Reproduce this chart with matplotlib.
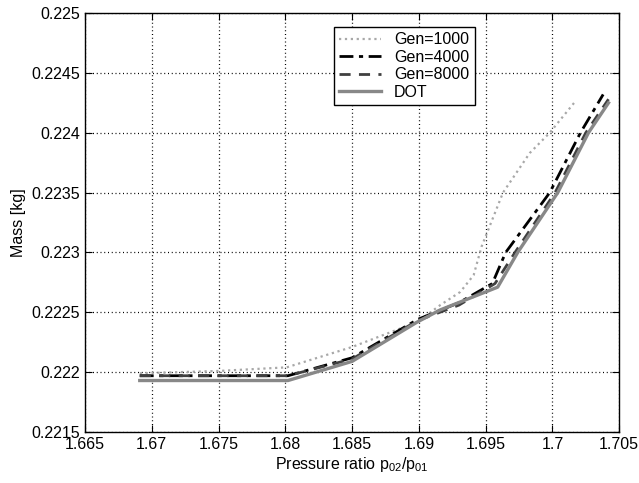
import matplotlib.pyplot as plt

plt.rcParams['font.family'] = ['Liberation Sans', 'DejaVu Sans']
plt.rcParams['mathtext.fontset'] = 'custom'
plt.rcParams['mathtext.rm'] = 'Liberation Sans'
plt.rcParams['mathtext.it'] = 'Liberation Sans'

# Pareto fronts
x_1000 = [1.6691, 1.6750, 1.6801, 1.6850, 1.6899, 1.6916, 1.6931, 1.6941, 1.6947, 1.6963, 1.6983, 1.6998, 1.7017]
m_1000 = [0.22199, 0.22201, 0.22204, 0.22221, 0.22242, 0.22256, 0.22267, 0.22281, 0.22305, 0.22350, 0.22383, 0.22400, 0.22426]

x_4000 = [1.6691, 1.6802, 1.6850, 1.6899, 1.6930, 1.6955, 1.6965, 1.6998, 1.7021, 1.7038]
m_4000 = [0.22197, 0.22197, 0.22212, 0.22244, 0.22258, 0.22274, 0.22300, 0.22350, 0.22400, 0.22432]

x_8000 = [1.6691, 1.6802, 1.6850, 1.6899, 1.6930, 1.6957, 1.6972, 1.7002, 1.7025, 1.7042]
m_8000 = [0.22197, 0.22197, 0.22211, 0.22243, 0.22256, 0.22274, 0.22300, 0.22350, 0.22400, 0.22428]

x_dot = [1.6691, 1.6802, 1.6850, 1.6899, 1.6916, 1.6959, 1.6974, 1.7004, 1.7027, 1.7042]
m_dot = [0.22193, 0.22193, 0.22209, 0.22242, 0.22252, 0.22271, 0.22300, 0.22350, 0.22400, 0.22425]

xticks = [1.665, 1.67, 1.675, 1.68, 1.685, 1.69, 1.695, 1.7, 1.705]
xtick_labels = ['1.665', '1.67', '1.675', '1.68', '1.685', '1.69', '1.695', '1.7', '1.705']
yticks = [0.2215, 0.222, 0.2225, 0.223, 0.2235, 0.224, 0.2245, 0.225]
ytick_labels = ['0.2215', '0.222', '0.2225', '0.223', '0.2235', '0.224', '0.2245', '0.225']

fig = plt.figure(figsize=(6.39, 4.83), dpi=100)
ax = fig.add_axes([0.133, 0.1056, 0.836, 0.8674])

ax.plot(x_1000, m_1000, color='#a8a8a8', linestyle=':', linewidth=1.6, label='Gen=1000')
ax.plot(x_4000, m_4000, color='black', linestyle='-.', linewidth=2.0, dashes=(5, 2, 1.5, 2), label='Gen=4000')
ax.plot(x_8000, m_8000, color='#404040', linestyle='--', linewidth=2.0, dashes=(4, 3), label='Gen=8000')
ax.plot(x_dot, m_dot, color='#888888', linestyle='-', linewidth=2.4, label='DOT')

ax.set_xlim(1.665, 1.705)
ax.set_ylim(0.2215, 0.225)
ax.set_xticks(xticks)
ax.set_xticklabels(xtick_labels)
ax.set_yticks(yticks)
ax.set_yticklabels(ytick_labels)
ax.tick_params(direction='in', top=True, right=True, length=5, labelsize=11.5, color='black')
ax.grid(True, color='black', linestyle=(0, (0.8, 2.2)), linewidth=0.9)
for s in ax.spines.values():
    s.set_linewidth(1.0)

ax.set_xlabel('Pressure ratio p$_{02}$/p$_{01}$', fontsize=11.5, labelpad=2)
ax.set_ylabel('Mass [kg]', fontsize=11.5, labelpad=4)

leg = ax.legend(loc='upper left', bbox_to_anchor=(0.451, 0.986), fontsize=11.5,
                frameon=True, fancybox=False, framealpha=1, edgecolor='black',
                handlelength=2.6, borderpad=0.35, labelspacing=0.15, handletextpad=0.8)
leg.get_frame().set_linewidth(1.0)

fig.savefig('out.png', dpi=100)
